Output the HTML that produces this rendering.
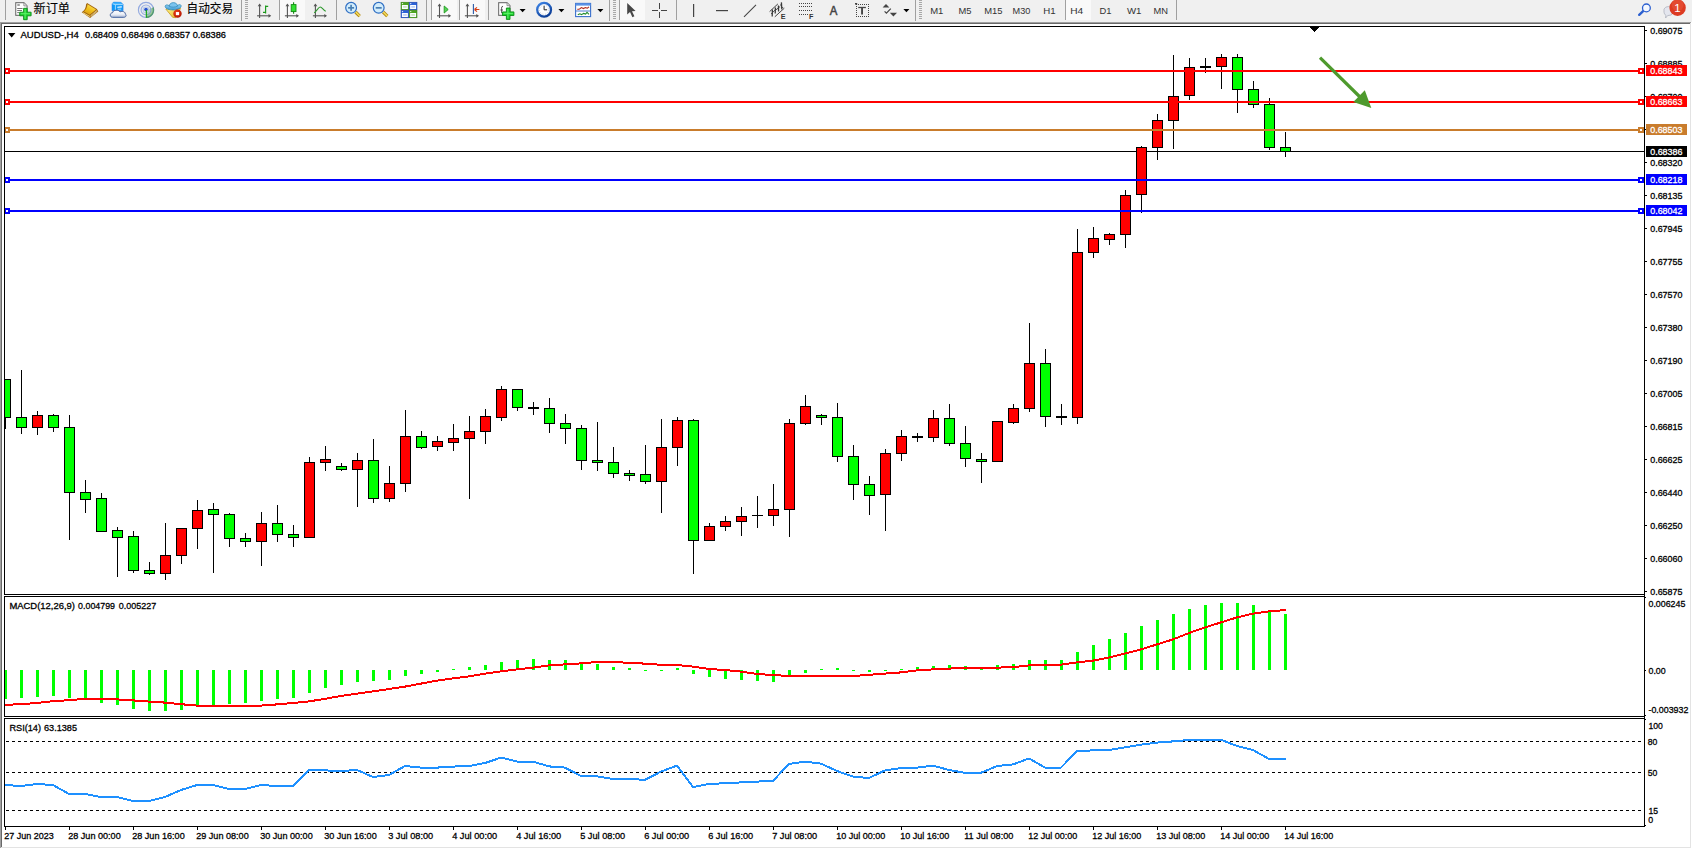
<!DOCTYPE html>
<html lang="zh"><head><meta charset="utf-8"><title>AUDUSD H4</title>
<style>
html,body{margin:0;padding:0}
body{width:1692px;height:849px;overflow:hidden;position:relative;background:#f0f0f0;font-family:"Liberation Sans","Noto Sans CJK SC",sans-serif}
svg text{white-space:pre}
</style></head><body>
<svg width="1692" height="849" viewBox="0 0 1692 849" style="position:absolute;left:0;top:0" font-family='"Liberation Sans", sans-serif' font-size="9.8" stroke-width="0.3">
<g shape-rendering="crispEdges">
<rect x="0" y="22" width="1692" height="827" fill="#fff"/>
<rect x="0" y="22" width="1691" height="1" fill="#a0a0a0"/>
<rect x="0" y="22" width="1" height="826" fill="#a0a0a0"/>
<rect x="1" y="23" width="1689" height="1" fill="#696969"/>
<rect x="1" y="23" width="1" height="824" fill="#696969"/>
<rect x="1690" y="23" width="1" height="825" fill="#e3e3e3"/>
<rect x="1" y="847" width="1690" height="1" fill="#e3e3e3"/>
<clipPath id="cp"><rect x="5" y="27" width="1639" height="800"/></clipPath><g clip-path="url(#cp)">
<rect x="4" y="151" width="1641" height="1" fill="#000"/>
<rect x="5" y="379" width="1" height="50" fill="#000"/>
<rect x="0" y="379" width="11" height="39" fill="#000"/>
<rect x="1" y="380" width="9" height="37" fill="#00ff00"/>
<rect x="21" y="370" width="1" height="64" fill="#000"/>
<rect x="16" y="417" width="11" height="11" fill="#000"/>
<rect x="17" y="418" width="9" height="9" fill="#00ff00"/>
<rect x="37" y="411" width="1" height="24" fill="#000"/>
<rect x="32" y="415" width="11" height="13" fill="#000"/>
<rect x="33" y="416" width="9" height="11" fill="#ff0000"/>
<rect x="53" y="414" width="1" height="18" fill="#000"/>
<rect x="48" y="415" width="11" height="13" fill="#000"/>
<rect x="49" y="416" width="9" height="11" fill="#00ff00"/>
<rect x="69" y="415" width="1" height="125" fill="#000"/>
<rect x="64" y="427" width="11" height="66" fill="#000"/>
<rect x="65" y="428" width="9" height="64" fill="#00ff00"/>
<rect x="85" y="480" width="1" height="33" fill="#000"/>
<rect x="80" y="492" width="11" height="8" fill="#000"/>
<rect x="81" y="493" width="9" height="6" fill="#00ff00"/>
<rect x="101" y="493" width="1" height="39" fill="#000"/>
<rect x="96" y="498" width="11" height="34" fill="#000"/>
<rect x="97" y="499" width="9" height="32" fill="#00ff00"/>
<rect x="117" y="527" width="1" height="50" fill="#000"/>
<rect x="112" y="530" width="11" height="8" fill="#000"/>
<rect x="113" y="531" width="9" height="6" fill="#00ff00"/>
<rect x="133" y="531" width="1" height="42" fill="#000"/>
<rect x="128" y="536" width="11" height="35" fill="#000"/>
<rect x="129" y="537" width="9" height="33" fill="#00ff00"/>
<rect x="149" y="562" width="1" height="13" fill="#000"/>
<rect x="144" y="570" width="11" height="4" fill="#000"/>
<rect x="145" y="571" width="9" height="2" fill="#00ff00"/>
<rect x="165" y="523" width="1" height="57" fill="#000"/>
<rect x="160" y="555" width="11" height="19" fill="#000"/>
<rect x="161" y="556" width="9" height="17" fill="#ff0000"/>
<rect x="181" y="528" width="1" height="36" fill="#000"/>
<rect x="176" y="528" width="11" height="28" fill="#000"/>
<rect x="177" y="529" width="9" height="26" fill="#ff0000"/>
<rect x="197" y="500" width="1" height="49" fill="#000"/>
<rect x="192" y="510" width="11" height="19" fill="#000"/>
<rect x="193" y="511" width="9" height="17" fill="#ff0000"/>
<rect x="213" y="503" width="1" height="70" fill="#000"/>
<rect x="208" y="509" width="11" height="6" fill="#000"/>
<rect x="209" y="510" width="9" height="4" fill="#00ff00"/>
<rect x="229" y="513" width="1" height="34" fill="#000"/>
<rect x="224" y="514" width="11" height="25" fill="#000"/>
<rect x="225" y="515" width="9" height="23" fill="#00ff00"/>
<rect x="245" y="533" width="1" height="14" fill="#000"/>
<rect x="240" y="538" width="11" height="4" fill="#000"/>
<rect x="241" y="539" width="9" height="2" fill="#00ff00"/>
<rect x="261" y="512" width="1" height="54" fill="#000"/>
<rect x="256" y="523" width="11" height="19" fill="#000"/>
<rect x="257" y="524" width="9" height="17" fill="#ff0000"/>
<rect x="277" y="505" width="1" height="37" fill="#000"/>
<rect x="272" y="523" width="11" height="12" fill="#000"/>
<rect x="273" y="524" width="9" height="10" fill="#00ff00"/>
<rect x="293" y="525" width="1" height="22" fill="#000"/>
<rect x="288" y="534" width="11" height="4" fill="#000"/>
<rect x="289" y="535" width="9" height="2" fill="#00ff00"/>
<rect x="309" y="457" width="1" height="81" fill="#000"/>
<rect x="304" y="462" width="11" height="76" fill="#000"/>
<rect x="305" y="463" width="9" height="74" fill="#ff0000"/>
<rect x="325" y="446" width="1" height="25" fill="#000"/>
<rect x="320" y="459" width="11" height="4" fill="#000"/>
<rect x="321" y="460" width="9" height="2" fill="#ff0000"/>
<rect x="341" y="463" width="1" height="8" fill="#000"/>
<rect x="336" y="466" width="11" height="4" fill="#000"/>
<rect x="337" y="467" width="9" height="2" fill="#00ff00"/>
<rect x="357" y="453" width="1" height="54" fill="#000"/>
<rect x="352" y="460" width="11" height="10" fill="#000"/>
<rect x="353" y="461" width="9" height="8" fill="#ff0000"/>
<rect x="373" y="439" width="1" height="64" fill="#000"/>
<rect x="368" y="460" width="11" height="39" fill="#000"/>
<rect x="369" y="461" width="9" height="37" fill="#00ff00"/>
<rect x="389" y="466" width="1" height="36" fill="#000"/>
<rect x="384" y="483" width="11" height="16" fill="#000"/>
<rect x="385" y="484" width="9" height="14" fill="#ff0000"/>
<rect x="405" y="410" width="1" height="82" fill="#000"/>
<rect x="400" y="436" width="11" height="48" fill="#000"/>
<rect x="401" y="437" width="9" height="46" fill="#ff0000"/>
<rect x="421" y="431" width="1" height="18" fill="#000"/>
<rect x="416" y="436" width="11" height="12" fill="#000"/>
<rect x="417" y="437" width="9" height="10" fill="#00ff00"/>
<rect x="437" y="436" width="1" height="15" fill="#000"/>
<rect x="432" y="441" width="11" height="6" fill="#000"/>
<rect x="433" y="442" width="9" height="4" fill="#ff0000"/>
<rect x="453" y="424" width="1" height="27" fill="#000"/>
<rect x="448" y="438" width="11" height="5" fill="#000"/>
<rect x="449" y="439" width="9" height="3" fill="#ff0000"/>
<rect x="469" y="416" width="1" height="83" fill="#000"/>
<rect x="464" y="431" width="11" height="8" fill="#000"/>
<rect x="465" y="432" width="9" height="6" fill="#ff0000"/>
<rect x="485" y="409" width="1" height="35" fill="#000"/>
<rect x="480" y="416" width="11" height="16" fill="#000"/>
<rect x="481" y="417" width="9" height="14" fill="#ff0000"/>
<rect x="501" y="386" width="1" height="35" fill="#000"/>
<rect x="496" y="389" width="11" height="29" fill="#000"/>
<rect x="497" y="390" width="9" height="27" fill="#ff0000"/>
<rect x="517" y="389" width="1" height="22" fill="#000"/>
<rect x="512" y="389" width="11" height="19" fill="#000"/>
<rect x="513" y="390" width="9" height="17" fill="#00ff00"/>
<rect x="533" y="402" width="1" height="13" fill="#000"/>
<rect x="528" y="407" width="11" height="2" fill="#000"/>
<rect x="549" y="398" width="1" height="35" fill="#000"/>
<rect x="544" y="408" width="11" height="16" fill="#000"/>
<rect x="545" y="409" width="9" height="14" fill="#00ff00"/>
<rect x="565" y="414" width="1" height="30" fill="#000"/>
<rect x="560" y="423" width="11" height="6" fill="#000"/>
<rect x="561" y="424" width="9" height="4" fill="#00ff00"/>
<rect x="581" y="425" width="1" height="45" fill="#000"/>
<rect x="576" y="428" width="11" height="33" fill="#000"/>
<rect x="577" y="429" width="9" height="31" fill="#00ff00"/>
<rect x="597" y="422" width="1" height="49" fill="#000"/>
<rect x="592" y="460" width="11" height="3" fill="#000"/>
<rect x="593" y="461" width="9" height="1" fill="#00ff00"/>
<rect x="613" y="447" width="1" height="31" fill="#000"/>
<rect x="608" y="462" width="11" height="12" fill="#000"/>
<rect x="609" y="463" width="9" height="10" fill="#00ff00"/>
<rect x="629" y="470" width="1" height="11" fill="#000"/>
<rect x="624" y="473" width="11" height="3" fill="#000"/>
<rect x="625" y="474" width="9" height="1" fill="#00ff00"/>
<rect x="645" y="445" width="1" height="39" fill="#000"/>
<rect x="640" y="474" width="11" height="8" fill="#000"/>
<rect x="641" y="475" width="9" height="6" fill="#00ff00"/>
<rect x="661" y="419" width="1" height="94" fill="#000"/>
<rect x="656" y="447" width="11" height="35" fill="#000"/>
<rect x="657" y="448" width="9" height="33" fill="#ff0000"/>
<rect x="677" y="417" width="1" height="49" fill="#000"/>
<rect x="672" y="420" width="11" height="28" fill="#000"/>
<rect x="673" y="421" width="9" height="26" fill="#ff0000"/>
<rect x="693" y="419" width="1" height="155" fill="#000"/>
<rect x="688" y="420" width="11" height="121" fill="#000"/>
<rect x="689" y="421" width="9" height="119" fill="#00ff00"/>
<rect x="709" y="523" width="1" height="18" fill="#000"/>
<rect x="704" y="526" width="11" height="15" fill="#000"/>
<rect x="705" y="527" width="9" height="13" fill="#ff0000"/>
<rect x="725" y="516" width="1" height="15" fill="#000"/>
<rect x="720" y="521" width="11" height="6" fill="#000"/>
<rect x="721" y="522" width="9" height="4" fill="#ff0000"/>
<rect x="741" y="507" width="1" height="29" fill="#000"/>
<rect x="736" y="516" width="11" height="6" fill="#000"/>
<rect x="737" y="517" width="9" height="4" fill="#ff0000"/>
<rect x="757" y="496" width="1" height="32" fill="#000"/>
<rect x="752" y="515" width="11" height="1" fill="#000"/>
<rect x="773" y="484" width="1" height="42" fill="#000"/>
<rect x="768" y="509" width="11" height="7" fill="#000"/>
<rect x="769" y="510" width="9" height="5" fill="#ff0000"/>
<rect x="789" y="419" width="1" height="118" fill="#000"/>
<rect x="784" y="423" width="11" height="87" fill="#000"/>
<rect x="785" y="424" width="9" height="85" fill="#ff0000"/>
<rect x="805" y="395" width="1" height="30" fill="#000"/>
<rect x="800" y="406" width="11" height="18" fill="#000"/>
<rect x="801" y="407" width="9" height="16" fill="#ff0000"/>
<rect x="821" y="414" width="1" height="11" fill="#000"/>
<rect x="816" y="415" width="11" height="3" fill="#000"/>
<rect x="817" y="416" width="9" height="1" fill="#00ff00"/>
<rect x="837" y="403" width="1" height="59" fill="#000"/>
<rect x="832" y="417" width="11" height="40" fill="#000"/>
<rect x="833" y="418" width="9" height="38" fill="#00ff00"/>
<rect x="853" y="445" width="1" height="55" fill="#000"/>
<rect x="848" y="456" width="11" height="29" fill="#000"/>
<rect x="849" y="457" width="9" height="27" fill="#00ff00"/>
<rect x="869" y="476" width="1" height="39" fill="#000"/>
<rect x="864" y="484" width="11" height="12" fill="#000"/>
<rect x="865" y="485" width="9" height="10" fill="#00ff00"/>
<rect x="885" y="449" width="1" height="82" fill="#000"/>
<rect x="880" y="453" width="11" height="42" fill="#000"/>
<rect x="881" y="454" width="9" height="40" fill="#ff0000"/>
<rect x="901" y="430" width="1" height="31" fill="#000"/>
<rect x="896" y="436" width="11" height="18" fill="#000"/>
<rect x="897" y="437" width="9" height="16" fill="#ff0000"/>
<rect x="917" y="433" width="1" height="9" fill="#000"/>
<rect x="912" y="436" width="11" height="2" fill="#000"/>
<rect x="933" y="410" width="1" height="32" fill="#000"/>
<rect x="928" y="418" width="11" height="20" fill="#000"/>
<rect x="929" y="419" width="9" height="18" fill="#ff0000"/>
<rect x="949" y="404" width="1" height="42" fill="#000"/>
<rect x="944" y="418" width="11" height="26" fill="#000"/>
<rect x="945" y="419" width="9" height="24" fill="#00ff00"/>
<rect x="965" y="426" width="1" height="41" fill="#000"/>
<rect x="960" y="443" width="11" height="16" fill="#000"/>
<rect x="961" y="444" width="9" height="14" fill="#00ff00"/>
<rect x="981" y="453" width="1" height="30" fill="#000"/>
<rect x="976" y="459" width="11" height="3" fill="#000"/>
<rect x="977" y="460" width="9" height="1" fill="#00ff00"/>
<rect x="997" y="421" width="1" height="41" fill="#000"/>
<rect x="992" y="421" width="11" height="41" fill="#000"/>
<rect x="993" y="422" width="9" height="39" fill="#ff0000"/>
<rect x="1013" y="404" width="1" height="20" fill="#000"/>
<rect x="1008" y="408" width="11" height="15" fill="#000"/>
<rect x="1009" y="409" width="9" height="13" fill="#ff0000"/>
<rect x="1029" y="323" width="1" height="89" fill="#000"/>
<rect x="1024" y="363" width="11" height="46" fill="#000"/>
<rect x="1025" y="364" width="9" height="44" fill="#ff0000"/>
<rect x="1045" y="349" width="1" height="78" fill="#000"/>
<rect x="1040" y="363" width="11" height="54" fill="#000"/>
<rect x="1041" y="364" width="9" height="52" fill="#00ff00"/>
<rect x="1061" y="404" width="1" height="21" fill="#000"/>
<rect x="1056" y="416" width="11" height="2" fill="#000"/>
<rect x="1077" y="229" width="1" height="195" fill="#000"/>
<rect x="1072" y="252" width="11" height="166" fill="#000"/>
<rect x="1073" y="253" width="9" height="164" fill="#ff0000"/>
<rect x="1093" y="227" width="1" height="31" fill="#000"/>
<rect x="1088" y="238" width="11" height="15" fill="#000"/>
<rect x="1089" y="239" width="9" height="13" fill="#ff0000"/>
<rect x="1109" y="233" width="1" height="12" fill="#000"/>
<rect x="1104" y="234" width="11" height="6" fill="#000"/>
<rect x="1105" y="235" width="9" height="4" fill="#ff0000"/>
<rect x="1125" y="190" width="1" height="58" fill="#000"/>
<rect x="1120" y="195" width="11" height="40" fill="#000"/>
<rect x="1121" y="196" width="9" height="38" fill="#ff0000"/>
<rect x="1141" y="146" width="1" height="67" fill="#000"/>
<rect x="1136" y="147" width="11" height="48" fill="#000"/>
<rect x="1137" y="148" width="9" height="46" fill="#ff0000"/>
<rect x="1157" y="114" width="1" height="46" fill="#000"/>
<rect x="1152" y="120" width="11" height="28" fill="#000"/>
<rect x="1153" y="121" width="9" height="26" fill="#ff0000"/>
<rect x="1173" y="55" width="1" height="94" fill="#000"/>
<rect x="1168" y="96" width="11" height="25" fill="#000"/>
<rect x="1169" y="97" width="9" height="23" fill="#ff0000"/>
<rect x="1189" y="58" width="1" height="42" fill="#000"/>
<rect x="1184" y="67" width="11" height="29" fill="#000"/>
<rect x="1185" y="68" width="9" height="27" fill="#ff0000"/>
<rect x="1205" y="58" width="1" height="15" fill="#000"/>
<rect x="1200" y="66" width="11" height="2" fill="#000"/>
<rect x="1221" y="54" width="1" height="35" fill="#000"/>
<rect x="1216" y="57" width="11" height="10" fill="#000"/>
<rect x="1217" y="58" width="9" height="8" fill="#ff0000"/>
<rect x="1237" y="54" width="1" height="59" fill="#000"/>
<rect x="1232" y="57" width="11" height="33" fill="#000"/>
<rect x="1233" y="58" width="9" height="31" fill="#00ff00"/>
<rect x="1253" y="81" width="1" height="27" fill="#000"/>
<rect x="1248" y="89" width="11" height="16" fill="#000"/>
<rect x="1249" y="90" width="9" height="14" fill="#00ff00"/>
<rect x="1269" y="98" width="1" height="52" fill="#000"/>
<rect x="1264" y="104" width="11" height="44" fill="#000"/>
<rect x="1265" y="105" width="9" height="42" fill="#00ff00"/>
<rect x="1285" y="132" width="1" height="25" fill="#000"/>
<rect x="1280" y="147" width="11" height="5" fill="#000"/>
<rect x="1281" y="148" width="9" height="3" fill="#00ff00"/>
<rect x="4" y="70" width="1640" height="2" fill="#ff0000"/>
<rect x="4" y="68" width="6" height="6" fill="#ff0000"/>
<rect x="6" y="70" width="2" height="2" fill="#fff"/>
<rect x="1638" y="68" width="6" height="6" fill="#ff0000"/>
<rect x="1640" y="70" width="2" height="2" fill="#fff"/>
<rect x="4" y="101" width="1640" height="2" fill="#ff0000"/>
<rect x="4" y="99" width="6" height="6" fill="#ff0000"/>
<rect x="6" y="101" width="2" height="2" fill="#fff"/>
<rect x="1638" y="99" width="6" height="6" fill="#ff0000"/>
<rect x="1640" y="101" width="2" height="2" fill="#fff"/>
<rect x="4" y="129" width="1640" height="2" fill="#c97c2c"/>
<rect x="4" y="127" width="6" height="6" fill="#c97c2c"/>
<rect x="6" y="129" width="2" height="2" fill="#fff"/>
<rect x="1638" y="127" width="6" height="6" fill="#c97c2c"/>
<rect x="1640" y="129" width="2" height="2" fill="#fff"/>
<rect x="4" y="179" width="1640" height="2" fill="#0000ff"/>
<rect x="4" y="177" width="6" height="6" fill="#0000ff"/>
<rect x="6" y="179" width="2" height="2" fill="#fff"/>
<rect x="1638" y="177" width="6" height="6" fill="#0000ff"/>
<rect x="1640" y="179" width="2" height="2" fill="#fff"/>
<rect x="4" y="210" width="1640" height="2" fill="#0000ff"/>
<rect x="4" y="208" width="6" height="6" fill="#0000ff"/>
<rect x="6" y="210" width="2" height="2" fill="#fff"/>
<rect x="1638" y="208" width="6" height="6" fill="#0000ff"/>
<rect x="1640" y="210" width="2" height="2" fill="#fff"/>
<rect x="4" y="670" width="3" height="29" fill="#00ff00"/>
<rect x="20" y="670" width="3" height="28" fill="#00ff00"/>
<rect x="36" y="670" width="3" height="27" fill="#00ff00"/>
<rect x="52" y="670" width="3" height="26" fill="#00ff00"/>
<rect x="68" y="670" width="3" height="28" fill="#00ff00"/>
<rect x="84" y="670" width="3" height="29" fill="#00ff00"/>
<rect x="100" y="670" width="3" height="33" fill="#00ff00"/>
<rect x="116" y="670" width="3" height="35" fill="#00ff00"/>
<rect x="132" y="670" width="3" height="39" fill="#00ff00"/>
<rect x="148" y="670" width="3" height="41" fill="#00ff00"/>
<rect x="164" y="670" width="3" height="41" fill="#00ff00"/>
<rect x="180" y="670" width="3" height="40" fill="#00ff00"/>
<rect x="196" y="670" width="3" height="36" fill="#00ff00"/>
<rect x="212" y="670" width="3" height="35" fill="#00ff00"/>
<rect x="228" y="670" width="3" height="34" fill="#00ff00"/>
<rect x="244" y="670" width="3" height="33" fill="#00ff00"/>
<rect x="260" y="670" width="3" height="31" fill="#00ff00"/>
<rect x="276" y="670" width="3" height="29" fill="#00ff00"/>
<rect x="292" y="670" width="3" height="28" fill="#00ff00"/>
<rect x="308" y="670" width="3" height="23" fill="#00ff00"/>
<rect x="324" y="670" width="3" height="18" fill="#00ff00"/>
<rect x="340" y="670" width="3" height="15" fill="#00ff00"/>
<rect x="356" y="670" width="3" height="12" fill="#00ff00"/>
<rect x="372" y="670" width="3" height="11" fill="#00ff00"/>
<rect x="388" y="670" width="3" height="10" fill="#00ff00"/>
<rect x="404" y="670" width="3" height="6" fill="#00ff00"/>
<rect x="420" y="670" width="3" height="4" fill="#00ff00"/>
<rect x="436" y="670" width="3" height="2" fill="#00ff00"/>
<rect x="452" y="669" width="3" height="1" fill="#00ff00"/>
<rect x="468" y="667" width="3" height="3" fill="#00ff00"/>
<rect x="484" y="665" width="3" height="5" fill="#00ff00"/>
<rect x="500" y="662" width="3" height="8" fill="#00ff00"/>
<rect x="516" y="660" width="3" height="10" fill="#00ff00"/>
<rect x="532" y="659" width="3" height="11" fill="#00ff00"/>
<rect x="548" y="660" width="3" height="10" fill="#00ff00"/>
<rect x="564" y="660" width="3" height="10" fill="#00ff00"/>
<rect x="580" y="662" width="3" height="8" fill="#00ff00"/>
<rect x="596" y="664" width="3" height="6" fill="#00ff00"/>
<rect x="612" y="667" width="3" height="3" fill="#00ff00"/>
<rect x="628" y="668" width="3" height="2" fill="#00ff00"/>
<rect x="644" y="670" width="3" height="1" fill="#00ff00"/>
<rect x="660" y="670" width="3" height="1" fill="#00ff00"/>
<rect x="676" y="668" width="3" height="2" fill="#00ff00"/>
<rect x="692" y="670" width="3" height="4" fill="#00ff00"/>
<rect x="708" y="670" width="3" height="7" fill="#00ff00"/>
<rect x="724" y="670" width="3" height="9" fill="#00ff00"/>
<rect x="740" y="670" width="3" height="10" fill="#00ff00"/>
<rect x="756" y="670" width="3" height="11" fill="#00ff00"/>
<rect x="772" y="670" width="3" height="12" fill="#00ff00"/>
<rect x="788" y="670" width="3" height="5" fill="#00ff00"/>
<rect x="804" y="670" width="3" height="3" fill="#00ff00"/>
<rect x="820" y="669" width="3" height="1" fill="#00ff00"/>
<rect x="836" y="668" width="3" height="2" fill="#00ff00"/>
<rect x="852" y="670" width="3" height="1" fill="#00ff00"/>
<rect x="868" y="670" width="3" height="2" fill="#00ff00"/>
<rect x="884" y="670" width="3" height="1" fill="#00ff00"/>
<rect x="900" y="669" width="3" height="1" fill="#00ff00"/>
<rect x="916" y="667" width="3" height="3" fill="#00ff00"/>
<rect x="932" y="666" width="3" height="4" fill="#00ff00"/>
<rect x="948" y="665" width="3" height="5" fill="#00ff00"/>
<rect x="964" y="666" width="3" height="4" fill="#00ff00"/>
<rect x="980" y="668" width="3" height="2" fill="#00ff00"/>
<rect x="996" y="665" width="3" height="5" fill="#00ff00"/>
<rect x="1012" y="664" width="3" height="6" fill="#00ff00"/>
<rect x="1028" y="660" width="3" height="10" fill="#00ff00"/>
<rect x="1044" y="660" width="3" height="10" fill="#00ff00"/>
<rect x="1060" y="660" width="3" height="10" fill="#00ff00"/>
<rect x="1076" y="652" width="3" height="18" fill="#00ff00"/>
<rect x="1092" y="645" width="3" height="25" fill="#00ff00"/>
<rect x="1108" y="639" width="3" height="31" fill="#00ff00"/>
<rect x="1124" y="633" width="3" height="37" fill="#00ff00"/>
<rect x="1140" y="626" width="3" height="44" fill="#00ff00"/>
<rect x="1156" y="620" width="3" height="50" fill="#00ff00"/>
<rect x="1172" y="614" width="3" height="56" fill="#00ff00"/>
<rect x="1188" y="609" width="3" height="61" fill="#00ff00"/>
<rect x="1204" y="605" width="3" height="65" fill="#00ff00"/>
<rect x="1220" y="603" width="3" height="67" fill="#00ff00"/>
<rect x="1236" y="603" width="3" height="67" fill="#00ff00"/>
<rect x="1252" y="605" width="3" height="65" fill="#00ff00"/>
<rect x="1268" y="610" width="3" height="60" fill="#00ff00"/>
<rect x="1284" y="614" width="3" height="56" fill="#00ff00"/>
</g></g>
<polyline points="5,704.8 21,704.2 37,703.0 53,701.2 69,700.2 85,698.8 101,698.8 117,699.4 133,700.4 149,701.6 165,702.6 181,704.2 197,705.6 213,706.0 229,706.0 245,706.0 261,705.6 277,704.4 293,703.0 309,701.4 325,698.8 341,696.0 357,693.6 373,691.4 389,689.0 405,686.6 421,683.6 437,680.6 453,678.4 469,676.4 485,673.6 501,671.4 517,669.4 533,667.6 549,665.4 565,664.4 581,663.4 597,662.0 613,661.6 629,663.0 645,663.6 661,664.8 677,665.0 693,666.6 709,669.0 725,670.0 741,671.6 757,674.0 773,675.0 789,676.0 805,676.0 821,676.0 837,676.0 853,676.0 869,674.8 885,673.6 901,672.4 917,670.4 933,669.4 949,668.6 965,667.8 981,667.6 997,667.6 1013,667.2 1029,665.4 1045,665.0 1061,664.6 1077,662.4 1093,660.6 1109,657.6 1125,653.6 1141,649.4 1157,644.4 1173,639.4 1189,633.0 1205,627.4 1221,622.4 1237,617.4 1253,613.6 1269,611.4 1286,610.0" fill="none" stroke="#ff0000" stroke-width="2" stroke-linejoin="round" shape-rendering="crispEdges"/>
<g shape-rendering="crispEdges">
<line x1="6" y1="741.5" x2="1644" y2="741.5" stroke="#000" stroke-width="1" stroke-dasharray="3,3"/>
<line x1="6" y1="772.5" x2="1644" y2="772.5" stroke="#000" stroke-width="1" stroke-dasharray="3,3"/>
<line x1="6" y1="810.5" x2="1644" y2="810.5" stroke="#000" stroke-width="1" stroke-dasharray="3,3"/>
</g>
<polyline points="5,785.0 21,786.0 37,784.0 53,785.0 69,794.0 85,794.0 101,797.0 117,797.0 133,801.0 149,801.0 165,797.0 181,790.0 197,785.0 213,785.0 229,789.0 245,789.0 261,785.0 277,786.0 293,786.0 309,770.0 325,770.4 341,771.0 357,770.0 373,777.0 389,775.0 405,766.0 421,767.6 437,767.6 453,766.6 469,766.0 485,763.0 501,757.6 517,761.6 533,761.6 549,766.4 565,767.6 581,776.0 597,776.4 613,779.0 629,779.0 645,779.8 661,771.6 677,765.6 693,787.0 709,784.0 725,783.2 741,782.4 757,781.6 773,780.8 789,764.0 805,761.6 821,763.6 837,771.0 853,776.6 869,778.0 885,770.4 901,768.0 917,767.6 933,765.6 949,770.0 965,772.8 981,772.8 997,766.0 1013,764.4 1029,758.4 1045,767.6 1061,767.6 1077,751.0 1093,750.4 1109,750.0 1125,747.4 1141,744.6 1157,742.6 1173,741.4 1189,740.0 1205,739.8 1221,739.8 1237,746.0 1253,750.0 1269,759.0 1286,759.0" fill="none" stroke="#1e90ff" stroke-width="2" stroke-linejoin="round" shape-rendering="crispEdges"/>
<g shape-rendering="crispEdges">
<rect x="4" y="26" width="1" height="569" fill="#000"/>
<rect x="4" y="596" width="1" height="121" fill="#000"/>
<rect x="4" y="718" width="1" height="109" fill="#000"/>
<rect x="1644" y="26" width="1" height="801" fill="#000"/>
<rect x="4" y="26" width="1641" height="1" fill="#000"/>
<rect x="4" y="594" width="1641" height="1" fill="#000"/>
<rect x="4" y="596" width="1641" height="1" fill="#000"/>
<rect x="4" y="716" width="1641" height="1" fill="#000"/>
<rect x="4" y="718" width="1641" height="1" fill="#000"/>
<rect x="4" y="826" width="1641" height="1" fill="#000"/>
<rect x="1645" y="30" width="2" height="1" fill="#000"/>
<rect x="1645" y="63" width="2" height="1" fill="#000"/>
<rect x="1645" y="96" width="2" height="1" fill="#000"/>
<rect x="1645" y="129" width="2" height="1" fill="#000"/>
<rect x="1645" y="162" width="2" height="1" fill="#000"/>
<rect x="1645" y="195" width="2" height="1" fill="#000"/>
<rect x="1645" y="228" width="2" height="1" fill="#000"/>
<rect x="1645" y="261" width="2" height="1" fill="#000"/>
<rect x="1645" y="294" width="2" height="1" fill="#000"/>
<rect x="1645" y="327" width="2" height="1" fill="#000"/>
<rect x="1645" y="360" width="2" height="1" fill="#000"/>
<rect x="1645" y="393" width="2" height="1" fill="#000"/>
<rect x="1645" y="426" width="2" height="1" fill="#000"/>
<rect x="1645" y="459" width="2" height="1" fill="#000"/>
<rect x="1645" y="492" width="2" height="1" fill="#000"/>
<rect x="1645" y="525" width="2" height="1" fill="#000"/>
<rect x="1645" y="558" width="2" height="1" fill="#000"/>
<rect x="1645" y="591" width="2" height="1" fill="#000"/>
<rect x="1645" y="597" width="1" height="1" fill="#000"/>
<rect x="1645" y="670" width="1" height="1" fill="#000"/>
<rect x="1645" y="715" width="1" height="1" fill="#000"/>
<rect x="1645" y="719" width="1" height="1" fill="#000"/>
<rect x="1645" y="825" width="1" height="1" fill="#000"/>
<rect x="5" y="827" width="1" height="3" fill="#000"/>
<rect x="69" y="827" width="1" height="3" fill="#000"/>
<rect x="133" y="827" width="1" height="3" fill="#000"/>
<rect x="197" y="827" width="1" height="3" fill="#000"/>
<rect x="261" y="827" width="1" height="3" fill="#000"/>
<rect x="325" y="827" width="1" height="3" fill="#000"/>
<rect x="389" y="827" width="1" height="3" fill="#000"/>
<rect x="453" y="827" width="1" height="3" fill="#000"/>
<rect x="517" y="827" width="1" height="3" fill="#000"/>
<rect x="581" y="827" width="1" height="3" fill="#000"/>
<rect x="645" y="827" width="1" height="3" fill="#000"/>
<rect x="709" y="827" width="1" height="3" fill="#000"/>
<rect x="773" y="827" width="1" height="3" fill="#000"/>
<rect x="837" y="827" width="1" height="3" fill="#000"/>
<rect x="901" y="827" width="1" height="3" fill="#000"/>
<rect x="965" y="827" width="1" height="3" fill="#000"/>
<rect x="1029" y="827" width="1" height="3" fill="#000"/>
<rect x="1093" y="827" width="1" height="3" fill="#000"/>
<rect x="1157" y="827" width="1" height="3" fill="#000"/>
<rect x="1221" y="827" width="1" height="3" fill="#000"/>
<rect x="1285" y="827" width="1" height="3" fill="#000"/>
<polygon points="1309.5,27 1319.5,27 1314.5,32" fill="#000"/>
</g>
<text x="1650.2" y="34" textLength="32.3" lengthAdjust="spacingAndGlyphs" stroke="#000">0.69075</text>
<text x="1650.2" y="67" textLength="32.3" lengthAdjust="spacingAndGlyphs" stroke="#000">0.68885</text>
<text x="1650.2" y="100" textLength="32.3" lengthAdjust="spacingAndGlyphs" stroke="#000">0.68700</text>
<text x="1650.2" y="133" textLength="32.3" lengthAdjust="spacingAndGlyphs" stroke="#000">0.68510</text>
<text x="1650.2" y="166" textLength="32.3" lengthAdjust="spacingAndGlyphs" stroke="#000">0.68320</text>
<text x="1650.2" y="199" textLength="32.3" lengthAdjust="spacingAndGlyphs" stroke="#000">0.68135</text>
<text x="1650.2" y="232" textLength="32.3" lengthAdjust="spacingAndGlyphs" stroke="#000">0.67945</text>
<text x="1650.2" y="265" textLength="32.3" lengthAdjust="spacingAndGlyphs" stroke="#000">0.67755</text>
<text x="1650.2" y="298" textLength="32.3" lengthAdjust="spacingAndGlyphs" stroke="#000">0.67570</text>
<text x="1650.2" y="331" textLength="32.3" lengthAdjust="spacingAndGlyphs" stroke="#000">0.67380</text>
<text x="1650.2" y="364" textLength="32.3" lengthAdjust="spacingAndGlyphs" stroke="#000">0.67190</text>
<text x="1650.2" y="397" textLength="32.3" lengthAdjust="spacingAndGlyphs" stroke="#000">0.67005</text>
<text x="1650.2" y="430" textLength="32.3" lengthAdjust="spacingAndGlyphs" stroke="#000">0.66815</text>
<text x="1650.2" y="463" textLength="32.3" lengthAdjust="spacingAndGlyphs" stroke="#000">0.66625</text>
<text x="1650.2" y="496" textLength="32.3" lengthAdjust="spacingAndGlyphs" stroke="#000">0.66440</text>
<text x="1650.2" y="529" textLength="32.3" lengthAdjust="spacingAndGlyphs" stroke="#000">0.66250</text>
<text x="1650.2" y="562" textLength="32.3" lengthAdjust="spacingAndGlyphs" stroke="#000">0.66060</text>
<text x="1650.2" y="595" textLength="32.3" lengthAdjust="spacingAndGlyphs" stroke="#000">0.65875</text>
<rect x="1646" y="65" width="41" height="11" fill="#ff0000" shape-rendering="crispEdges"/>
<text x="1650.2" y="74" textLength="32.3" lengthAdjust="spacingAndGlyphs" fill="#fff" stroke="#fff">0.68843</text>
<rect x="1646" y="96" width="41" height="11" fill="#ff0000" shape-rendering="crispEdges"/>
<text x="1650.2" y="105" textLength="32.3" lengthAdjust="spacingAndGlyphs" fill="#fff" stroke="#fff">0.68663</text>
<rect x="1646" y="124" width="41" height="11" fill="#c97c2c" shape-rendering="crispEdges"/>
<text x="1650.2" y="133" textLength="32.3" lengthAdjust="spacingAndGlyphs" fill="#fff" stroke="#fff">0.68503</text>
<rect x="1646" y="146" width="41" height="11" fill="#000" shape-rendering="crispEdges"/>
<text x="1650.2" y="155" textLength="32.3" lengthAdjust="spacingAndGlyphs" fill="#fff" stroke="#fff">0.68386</text>
<rect x="1646" y="174" width="41" height="11" fill="#0000ff" shape-rendering="crispEdges"/>
<text x="1650.2" y="183" textLength="32.3" lengthAdjust="spacingAndGlyphs" fill="#fff" stroke="#fff">0.68218</text>
<rect x="1646" y="205" width="41" height="11" fill="#0000ff" shape-rendering="crispEdges"/>
<text x="1650.2" y="214" textLength="32.3" lengthAdjust="spacingAndGlyphs" fill="#fff" stroke="#fff">0.68042</text>
<text x="1648.5" y="607" textLength="36.8" lengthAdjust="spacingAndGlyphs" stroke="#000">0.006245</text>
<text x="1648.5" y="674" textLength="17.2" lengthAdjust="spacingAndGlyphs" stroke="#000">0.00</text>
<text x="1648.5" y="713" textLength="39.8" lengthAdjust="spacingAndGlyphs" stroke="#000">-0.003932</text>
<text x="1648.5" y="729" textLength="14.4" lengthAdjust="spacingAndGlyphs" stroke="#000">100</text>
<text x="1647.8" y="745" textLength="9.6" lengthAdjust="spacingAndGlyphs" stroke="#000">80</text>
<text x="1647.8" y="776" textLength="9.6" lengthAdjust="spacingAndGlyphs" stroke="#000">50</text>
<text x="1648.5" y="814" textLength="9.6" lengthAdjust="spacingAndGlyphs" stroke="#000">15</text>
<text x="1648.2" y="823" textLength="4.9" lengthAdjust="spacingAndGlyphs" stroke="#000">0</text>
<polygon points="8,33 15.4,33 11.7,37.4" fill="#000"/>
<text x="20.5" y="38" textLength="58.3" lengthAdjust="spacingAndGlyphs" stroke="#000">AUDUSD-,H4</text>
<text x="85" y="38" textLength="141" lengthAdjust="spacingAndGlyphs" stroke="#000">0.68409 0.68496 0.68357 0.68386</text>
<text x="9.4" y="609" textLength="65.6" lengthAdjust="spacingAndGlyphs" stroke="#000">MACD(12,26,9)</text>
<text x="78.1" y="609" textLength="36.9" lengthAdjust="spacingAndGlyphs" stroke="#000">0.004799</text>
<text x="118.7" y="609" textLength="37.5" lengthAdjust="spacingAndGlyphs" stroke="#000">0.005227</text>
<text x="9.4" y="731" textLength="31.6" lengthAdjust="spacingAndGlyphs" stroke="#000">RSI(14)</text>
<text x="44" y="731" textLength="33" lengthAdjust="spacingAndGlyphs" stroke="#000">63.1385</text>
<text x="4.2" y="839" textLength="49.5" lengthAdjust="spacingAndGlyphs" stroke="#000">27 Jun 2023</text>
<text x="68.2" y="839" textLength="52.5" lengthAdjust="spacingAndGlyphs" stroke="#000">28 Jun 00:00</text>
<text x="132.2" y="839" textLength="52.5" lengthAdjust="spacingAndGlyphs" stroke="#000">28 Jun 16:00</text>
<text x="196.2" y="839" textLength="52.5" lengthAdjust="spacingAndGlyphs" stroke="#000">29 Jun 08:00</text>
<text x="260.2" y="839" textLength="52.5" lengthAdjust="spacingAndGlyphs" stroke="#000">30 Jun 00:00</text>
<text x="324.2" y="839" textLength="52.5" lengthAdjust="spacingAndGlyphs" stroke="#000">30 Jun 16:00</text>
<text x="388.2" y="839" textLength="45" lengthAdjust="spacingAndGlyphs" stroke="#000">3 Jul 08:00</text>
<text x="452.2" y="839" textLength="45" lengthAdjust="spacingAndGlyphs" stroke="#000">4 Jul 00:00</text>
<text x="516.2" y="839" textLength="45" lengthAdjust="spacingAndGlyphs" stroke="#000">4 Jul 16:00</text>
<text x="580.2" y="839" textLength="45" lengthAdjust="spacingAndGlyphs" stroke="#000">5 Jul 08:00</text>
<text x="644.2" y="839" textLength="45" lengthAdjust="spacingAndGlyphs" stroke="#000">6 Jul 00:00</text>
<text x="708.2" y="839" textLength="45" lengthAdjust="spacingAndGlyphs" stroke="#000">6 Jul 16:00</text>
<text x="772.2" y="839" textLength="45" lengthAdjust="spacingAndGlyphs" stroke="#000">7 Jul 08:00</text>
<text x="836.2" y="839" textLength="49.2" lengthAdjust="spacingAndGlyphs" stroke="#000">10 Jul 00:00</text>
<text x="900.2" y="839" textLength="49.2" lengthAdjust="spacingAndGlyphs" stroke="#000">10 Jul 16:00</text>
<text x="964.2" y="839" textLength="49.2" lengthAdjust="spacingAndGlyphs" stroke="#000">11 Jul 08:00</text>
<text x="1028.2" y="839" textLength="49.2" lengthAdjust="spacingAndGlyphs" stroke="#000">12 Jul 00:00</text>
<text x="1092.2" y="839" textLength="49.2" lengthAdjust="spacingAndGlyphs" stroke="#000">12 Jul 16:00</text>
<text x="1156.2" y="839" textLength="49.2" lengthAdjust="spacingAndGlyphs" stroke="#000">13 Jul 08:00</text>
<text x="1220.2" y="839" textLength="49.2" lengthAdjust="spacingAndGlyphs" stroke="#000">14 Jul 00:00</text>
<text x="1284.2" y="839" textLength="49.2" lengthAdjust="spacingAndGlyphs" stroke="#000">14 Jul 16:00</text>
<line x1="1320" y1="57.7" x2="1360" y2="97" stroke="#4e9a2d" stroke-width="3.2"/>
<polygon points="1371.3,108.1 1364.8,90.3 1353.3,102.1" fill="#4e9a2d"/>
<g id="toolbar">
<rect x="0" y="0" width="1692" height="22" fill="#f0f0f0"/>
<rect x="5" y="0" width="1" height="20" fill="#a0a0a0" shape-rendering="crispEdges"/>
<path d="M15.7,2.7 h8.2 l3.2,3.2 v9.4 h-11.4 z" fill="#fff" stroke="#7c7c7c" stroke-width="1.2" stroke-linejoin="round"/>
<path d="M23.9,2.9 v3 h3" fill="#f4f4f4" stroke="#7c7c7c" stroke-width="0.8"/>
<g stroke="#777" stroke-width="1"><line x1="17.3" y1="5" x2="19.8" y2="5" stroke-width="1.4"/><line x1="17.2" y1="8.5" x2="22.6" y2="8.5"/><line x1="17.2" y1="10.5" x2="22" y2="10.5"/><line x1="17.2" y1="12.6" x2="19.4" y2="12.6"/></g>
<path d="M23.6,8.3 h3.6 v3.9 h3.9 v3.6 h-3.9 v3.9 h-3.6 v-3.9 h-3.9 v-3.6 h3.9 z" fill="#1fd12f" stroke="#0b8f18" stroke-width="0.9"/><path d="M25.1,9.3 v9.4 M20.700000000000003,13.700000000000001 h9.4" stroke="#5cf068" stroke-width="1" fill="none"/>
<text x="33.5" y="13.2" font-size="12.2" font-family='"Liberation Sans","Noto Sans CJK SC",sans-serif' fill="#000" stroke="#000" stroke-width="0.12" textLength="36.5" lengthAdjust="spacingAndGlyphs">新订单</text>
<defs><linearGradient id="gb" x1="0.8" y1="0" x2="0.2" y2="1"><stop offset="0" stop-color="#ffe766"/><stop offset="0.5" stop-color="#f2c21c"/><stop offset="1" stop-color="#d99a10"/></linearGradient></defs>
<path d="M87.1,3.1 L96.9,9 L98.3,11.6 L90.1,18 L81.7,12.3 C84.6,10.4 85.9,7.8 86.1,4.2 Z" fill="#a2660e"/>
<path d="M87.5,4.3 L96,9.5 L89.7,14.7 L83.9,11.5 C86,9.7 87.1,7.5 87.5,4.3 Z" fill="url(#gb)"/>
<path d="M83.1,12.3 L89.8,16.1 L89.8,17.1 L82.8,12.9 Z" fill="#f8e08a"/>
<path d="M90.6,15.2 L96.6,10.3 L97.4,11.5 L90.7,16.9 Z" fill="#eadca2"/>
<path d="M90.6,16.1 L97,11" stroke="#a2660e" stroke-width="0.5" fill="none"/>
<defs><linearGradient id="cl" x1="0" y1="0" x2="0" y2="1"><stop offset="0" stop-color="#ffffff"/><stop offset="0.55" stop-color="#eef1f8"/><stop offset="1" stop-color="#aebbd6"/></linearGradient></defs>
<path d="M112,3.6 L113.8,2.1 L121,2.3 L123.1,4.5 L123.1,10.8 L112,10.8 Z" fill="#0f9af8" stroke="#2a7ae0" stroke-width="0.5"/>
<path d="M112.3,3.7 L113.9,2.5 L120.8,2.6 L122.6,4.5 L115.4,4.5 Z" fill="#3fb4ff"/>
<path d="M112.3,3.8 L115.4,4.6 L115.4,10.4 M115.4,4.6 L122.8,4.6" stroke="#d8f0ff" stroke-width="0.7" fill="none"/>
<path d="M117.3,7.3 L121.8,6.9" stroke="#ffffff" stroke-width="1.1" fill="none"/><path d="M117.6,9.2 h3.6" stroke="#bfe4ff" stroke-width="0.8" fill="none"/>
<path d="M112.6,17.3 C109.6,17.3 109.4,13 112.6,12.7 C113,9.8 118.6,9.2 120,11.9 C122.4,10.6 125.6,12 125.2,14 C126.8,14.8 126.2,17.3 123.8,17.3 Z" fill="url(#cl)" stroke="#40609e" stroke-width="1"/>
<defs><radialGradient id="sg" cx="0" cy="0" r="1" gradientUnits="userSpaceOnUse" gradientTransform="translate(146 9.9) scale(8)"><stop offset="0" stop-color="#dff0d8" stop-opacity="0.2"/><stop offset="1" stop-color="#3c9a3c" stop-opacity="0.75"/></radialGradient></defs>
<path d="M146,9.9 L146,17.9 A8,8 0 0 0 153.6,7.6 Z" fill="url(#sg)"/>
<g fill="none" stroke-width="1.15"><circle cx="146" cy="9.9" r="7.6" stroke="#5b80d6" stroke-opacity="0.62"/><circle cx="146" cy="9.9" r="4.9" stroke="#5b80d6" stroke-opacity="0.58"/><circle cx="146" cy="9.9" r="2.9" stroke="#7f9fe0" stroke-opacity="0.45"/></g>
<path d="M153.2,7.4 A7.6,7.6 0 0 1 146,17.5" fill="none" stroke="#4a9a5a" stroke-width="1.15" stroke-opacity="0.7"/>
<circle cx="146" cy="9.6" r="1.8" fill="#2452d0"/>
<line x1="146.4" y1="10" x2="146.4" y2="17.6" stroke="#1fa81f" stroke-width="1.3"/>
<defs><linearGradient id="fy" x1="0" y1="0" x2="1" y2="1"><stop offset="0" stop-color="#fff58c"/><stop offset="1" stop-color="#e4b020"/></linearGradient><radialGradient id="rs" cx="0.4" cy="0.35" r="0.7"><stop offset="0" stop-color="#f0431c"/><stop offset="1" stop-color="#b01400"/></radialGradient><linearGradient id="hb" x1="0" y1="0" x2="0" y2="1"><stop offset="0" stop-color="#8fd0f2"/><stop offset="1" stop-color="#3f9bd6"/></linearGradient></defs>
<path d="M165.8,9 L172.6,17.3 L175.6,17.7 L180.6,8.4 Z" fill="url(#fy)" stroke="#c89a1c" stroke-width="0.8"/>
<path d="M165.2,6.6 C165,4.6 167.4,4.4 169.4,5.8 L177.4,5.6 C179,4.2 181.6,4.2 181,6.6 C180.4,8.8 176.6,9.9 173,9.9 C169.4,9.9 165.6,9 165.2,6.6 Z" fill="url(#hb)" stroke="#2d86b6" stroke-width="0.8"/>
<path d="M169.3,6.4 C169.1,1.4 177.5,1.4 177.5,6.2 C175,7.4 171.6,7.4 169.3,6.4 Z" fill="#7cc4ee" stroke="#2d86b6" stroke-width="0.7"/>
<circle cx="177.5" cy="13.65" r="4.2" fill="url(#rs)"/>
<rect x="175.9" y="12.05" width="3.2" height="3.1" fill="#fff"/>
<text x="186.6" y="13.4" font-size="12" font-family='"Liberation Sans","Noto Sans CJK SC",sans-serif' fill="#000" stroke="#000" stroke-width="0.12" textLength="46.5" lengthAdjust="spacingAndGlyphs">自动交易</text>
<rect x="241" y="0" width="1" height="21" fill="#a0a0a0" shape-rendering="crispEdges"/>
<rect x="245" y="0" width="3" height="1" fill="#a8a8a8" shape-rendering="crispEdges"/>
<rect x="245" y="2" width="3" height="1" fill="#a8a8a8" shape-rendering="crispEdges"/>
<rect x="245" y="4" width="3" height="1" fill="#a8a8a8" shape-rendering="crispEdges"/>
<rect x="245" y="6" width="3" height="1" fill="#a8a8a8" shape-rendering="crispEdges"/>
<rect x="245" y="8" width="3" height="1" fill="#a8a8a8" shape-rendering="crispEdges"/>
<rect x="245" y="10" width="3" height="1" fill="#a8a8a8" shape-rendering="crispEdges"/>
<rect x="245" y="12" width="3" height="1" fill="#a8a8a8" shape-rendering="crispEdges"/>
<rect x="245" y="14" width="3" height="1" fill="#a8a8a8" shape-rendering="crispEdges"/>
<rect x="245" y="16" width="3" height="1" fill="#a8a8a8" shape-rendering="crispEdges"/>
<rect x="245" y="18" width="3" height="1" fill="#a8a8a8" shape-rendering="crispEdges"/>
<g stroke="#555" stroke-width="1.1" fill="#555">
<line x1="259.6" y1="4.5" x2="259.6" y2="18"/>
<line x1="257.1" y1="15.8" x2="270.1" y2="15.8"/>
<polygon points="259.6,3.6 257.70000000000005,6.3 261.5,6.3" stroke="none"/>
<polygon points="271.20000000000005,15.8 268.5,13.9 268.5,17.7" stroke="none"/>
</g>
<path d="M265.6,5.4 v8 M265.6,6.4 h2.6 M265.6,12.4 h-2.6" stroke="#1e9a1e" stroke-width="1.2" fill="none"/>
<rect x="279" y="0" width="1" height="20" fill="#a0a0a0" shape-rendering="crispEdges"/>
<rect x="280" y="0" width="25" height="20" fill="#f9f9f9" shape-rendering="crispEdges"/>
<g stroke="#555" stroke-width="1.1" fill="#555">
<line x1="287.4" y1="4.5" x2="287.4" y2="18"/>
<line x1="284.9" y1="15.8" x2="297.9" y2="15.8"/>
<polygon points="287.4,3.6 285.5,6.3 289.29999999999995,6.3" stroke="none"/>
<polygon points="299.0,15.8 296.29999999999995,13.9 296.29999999999995,17.7" stroke="none"/>
</g>
<line x1="293.6" y1="2.2" x2="293.6" y2="13.8" stroke="#128a12" stroke-width="1.1"/>
<rect x="291.2" y="4.6" width="4.8" height="7" fill="#30e030" stroke="#128a12" stroke-width="0.9"/>
<g stroke="#555" stroke-width="1.1" fill="#555">
<line x1="315.4" y1="4.5" x2="315.4" y2="18"/>
<line x1="312.9" y1="15.8" x2="325.9" y2="15.8"/>
<polygon points="315.4,3.6 313.5,6.3 317.29999999999995,6.3" stroke="none"/>
<polygon points="327.0,15.8 324.29999999999995,13.9 324.29999999999995,17.7" stroke="none"/>
</g>
<path d="M314.2,12.8 C317,10.5 318.5,7 320.2,7 C322,7 323.5,10.5 325.8,11.2" fill="none" stroke="#2e9a2e" stroke-width="1.1"/>
<rect x="336" y="0" width="1" height="20" fill="#a0a0a0" shape-rendering="crispEdges"/>
<line x1="355.5" y1="12" x2="359.70000000000005" y2="16.2" stroke="#b08610" stroke-width="3.2" stroke-linecap="butt"/>
<line x1="355.70000000000005" y1="12" x2="359.70000000000005" y2="16" stroke="#f4dc5c" stroke-width="1.7" stroke-linecap="butt"/>
<circle cx="351.1" cy="7.8" r="5.4" fill="#d2ecfb" stroke="#2f6fc4" stroke-width="1.2"/>
<rect x="348.1" y="7" width="6" height="1.7" fill="#4a80b4"/>
<rect x="350.25" y="4.8" width="1.7" height="6" fill="#4a80b4"/>
<line x1="383.09999999999997" y1="12" x2="387.3" y2="16.2" stroke="#b08610" stroke-width="3.2" stroke-linecap="butt"/>
<line x1="383.3" y1="12" x2="387.3" y2="16" stroke="#f4dc5c" stroke-width="1.7" stroke-linecap="butt"/>
<circle cx="378.7" cy="7.8" r="5.4" fill="#d2ecfb" stroke="#2f6fc4" stroke-width="1.2"/>
<rect x="375.7" y="7" width="6" height="1.7" fill="#4a80b4"/>
<rect x="401" y="2.2" width="7.8" height="7.6" fill="#4ea422" stroke="#2f7a12" stroke-width="0.5"/>
<rect x="401.9" y="5.0" width="6" height="4" fill="#fbfdff"/>
<rect x="403.1" y="6.5" width="3.6" height="0.9" fill="#4ea422" opacity="0.55"/>
<rect x="401.9" y="3.2" width="1.2" height="0.9" fill="#fff"/>
<rect x="409.2" y="2.2" width="7.8" height="7.6" fill="#2c62d6" stroke="#1c3fa0" stroke-width="0.5"/>
<rect x="410.09999999999997" y="5.0" width="6" height="4" fill="#fbfdff"/>
<rect x="411.3" y="6.5" width="3.6" height="0.9" fill="#2c62d6" opacity="0.55"/>
<rect x="410.09999999999997" y="3.2" width="1.2" height="0.9" fill="#fff"/>
<rect x="401" y="10.2" width="7.8" height="7.6" fill="#2c62d6" stroke="#1c3fa0" stroke-width="0.5"/>
<rect x="401.9" y="13.0" width="6" height="4" fill="#fbfdff"/>
<rect x="403.1" y="14.5" width="3.6" height="0.9" fill="#2c62d6" opacity="0.55"/>
<rect x="401.9" y="11.2" width="1.2" height="0.9" fill="#fff"/>
<rect x="409.2" y="10.2" width="7.8" height="7.6" fill="#4ea422" stroke="#2f7a12" stroke-width="0.5"/>
<rect x="410.09999999999997" y="13.0" width="6" height="4" fill="#fbfdff"/>
<rect x="411.3" y="14.5" width="3.6" height="0.9" fill="#4ea422" opacity="0.55"/>
<rect x="410.09999999999997" y="11.2" width="1.2" height="0.9" fill="#fff"/>
<rect x="426" y="0" width="1" height="21" fill="#a0a0a0" shape-rendering="crispEdges"/>
<rect x="431" y="0" width="1" height="20" fill="#a0a0a0" shape-rendering="crispEdges"/>
<rect x="432" y="0" width="25" height="20" fill="#f9f9f9" shape-rendering="crispEdges"/>
<g stroke="#555" stroke-width="1.1" fill="#555">
<line x1="439.5" y1="4.5" x2="439.5" y2="18"/>
<line x1="437.0" y1="15.8" x2="450.0" y2="15.8"/>
<polygon points="439.5,3.6 437.6,6.3 441.4,6.3" stroke="none"/>
<polygon points="451.1,15.8 448.4,13.9 448.4,17.7" stroke="none"/>
</g>
<polygon points="444.2,6 444.2,13 448.2,9.5" fill="#55d455" stroke="#1e9a1e" stroke-width="0.9"/>
<rect x="459" y="0" width="1" height="20" fill="#a0a0a0" shape-rendering="crispEdges"/>
<rect x="460" y="0" width="25" height="20" fill="#f9f9f9" shape-rendering="crispEdges"/>
<g stroke="#555" stroke-width="1.1" fill="#555">
<line x1="467.4" y1="4.5" x2="467.4" y2="18"/>
<line x1="464.9" y1="15.8" x2="477.9" y2="15.8"/>
<polygon points="467.4,3.6 465.5,6.3 469.29999999999995,6.3" stroke="none"/>
<polygon points="479.0,15.8 476.29999999999995,13.9 476.29999999999995,17.7" stroke="none"/>
</g>
<line x1="473.4" y1="4" x2="473.4" y2="14" stroke="#2a5aa8" stroke-width="1.1"/>
<path d="M474.4,9.5 h5 M474.4,9.5 l2.6,-2.2 M474.4,9.5 l2.6,2.2" stroke="#d63c14" stroke-width="1.1" fill="none"/>
<rect x="488" y="0" width="1" height="20" fill="#a0a0a0" shape-rendering="crispEdges"/>
<path d="M498.6,2.7 h8.4 l3,3 v9.6 h-11.4 z" fill="#fff" stroke="#7c7c7c" stroke-width="1.2" stroke-linejoin="round"/>
<path d="M507,2.9 v2.8 h2.8" fill="#f4f4f4" stroke="#7c7c7c" stroke-width="0.8"/>
<path d="M503,6.2 q-1.6,0.2 -1.4,2 v5 M500.4,10 h2.6" fill="none" stroke="#444" stroke-width="0.9"/>
<path d="M506.4,8 h3.6 v3.9 h3.9 v3.6 h-3.9 v3.9 h-3.6 v-3.9 h-3.9 v-3.6 h3.9 z" fill="#1fd12f" stroke="#0b8f18" stroke-width="0.9"/><path d="M507.9,9 v9.4 M503.5,13.4 h9.4" stroke="#5cf068" stroke-width="1" fill="none"/>
<polygon points="519.6,9 525.6,9 522.6,12.2" fill="#000"/>
<defs><linearGradient id="ck" x1="0" y1="0" x2="0.6" y2="1"><stop offset="0" stop-color="#3f86e8"/><stop offset="1" stop-color="#0d3f98"/></linearGradient></defs>
<circle cx="544.1" cy="9.8" r="6.9" fill="#fdfdfd" stroke="url(#ck)" stroke-width="2.3"/>
<circle cx="544.1" cy="9.8" r="4.6" fill="none" stroke="#b8c4d6" stroke-width="1" stroke-dasharray="0.9,1.7"/>
<path d="M544.1,5.8 v4 h3" fill="none" stroke="#222" stroke-width="1"/>
<polygon points="558.4,9 564.4,9 561.4,12.2" fill="#000"/>
<rect x="575.6" y="3.4" width="15" height="13.2" fill="#fff" stroke="#3a70cc" stroke-width="1.1"/>
<rect x="575.6" y="3.4" width="15" height="2.2" fill="#5a92e6"/>
<line x1="576" y1="11" x2="590.4" y2="11" stroke="#3a70cc" stroke-width="0.9"/>
<path d="M577.4,9.4 l2.2,-0.4 l1.8,-1.4 l2,1 l2,-1 l2,0.6 l1.6,-1.4" fill="none" stroke="#b0281c" stroke-width="1.1"/>
<path d="M577.8,14.8 l2,-1 l1.8,0.8 l2,-1.2 l2,0.6 l1.4,-1.6 l2,2" fill="none" stroke="#1e8a2a" stroke-width="1.1"/>
<polygon points="597.4,9 603.4,9 600.4,12.2" fill="#000"/>
<rect x="609" y="0" width="1" height="21" fill="#a0a0a0" shape-rendering="crispEdges"/>
<rect x="613" y="0" width="3" height="1" fill="#a8a8a8" shape-rendering="crispEdges"/>
<rect x="613" y="2" width="3" height="1" fill="#a8a8a8" shape-rendering="crispEdges"/>
<rect x="613" y="4" width="3" height="1" fill="#a8a8a8" shape-rendering="crispEdges"/>
<rect x="613" y="6" width="3" height="1" fill="#a8a8a8" shape-rendering="crispEdges"/>
<rect x="613" y="8" width="3" height="1" fill="#a8a8a8" shape-rendering="crispEdges"/>
<rect x="613" y="10" width="3" height="1" fill="#a8a8a8" shape-rendering="crispEdges"/>
<rect x="613" y="12" width="3" height="1" fill="#a8a8a8" shape-rendering="crispEdges"/>
<rect x="613" y="14" width="3" height="1" fill="#a8a8a8" shape-rendering="crispEdges"/>
<rect x="613" y="16" width="3" height="1" fill="#a8a8a8" shape-rendering="crispEdges"/>
<rect x="613" y="18" width="3" height="1" fill="#a8a8a8" shape-rendering="crispEdges"/>
<rect x="619" y="0" width="1" height="20" fill="#a0a0a0" shape-rendering="crispEdges"/>
<rect x="620" y="0" width="25" height="20" fill="#f9f9f9" shape-rendering="crispEdges"/>
<path d="M627.2,3 V14.6 L630,12 L632.4,17.2 L634.4,16.2 L632,11.2 L635.6,11 Z" fill="#484848"/>
<g stroke="#444" stroke-width="1" shape-rendering="crispEdges"><line x1="652" y1="10.5" x2="658" y2="10.5"/><line x1="661" y1="10.5" x2="667" y2="10.5"/><line x1="659.5" y1="3" x2="659.5" y2="9"/><line x1="659.5" y1="12" x2="659.5" y2="18"/></g>
<rect x="676" y="0" width="1" height="20" fill="#a0a0a0" shape-rendering="crispEdges"/>
<rect x="693" y="4" width="1.2" height="13" fill="#444"/>
<rect x="716" y="10" width="12" height="1.2" fill="#444"/>
<line x1="744" y1="16.8" x2="756" y2="4.9" stroke="#444" stroke-width="1.1"/>
<g stroke="#444" stroke-width="1" fill="none"><path d="M769.6,11.6 L777.9,3.9 M774.8,16.8 L784.3,8.2"/></g>
<g stroke="#3a3a3a" stroke-width="1.3" fill="none"><path d="M772.4,9.6 L772.2,16.6 M775.4,7.6 L775.2,13.6 M778.4,5.6 L778.6,11.4 M781.4,2.4 L781.8,9.4"/><path d="M771,13.6 h1.4 M772.4,11.6 h1.6 M774,10.6 h1.3 M775.4,9.4 h1.6 M777,8.6 h1.4 M778.6,7 h1.6 M780,5 h1.4 M781.6,7.6 h1.6" stroke-width="0.9"/></g>
<text x="780.8" y="19" font-size="7.2" font-weight="bold" fill="#333">E</text>
<g stroke="#444" stroke-width="1" stroke-dasharray="1,1" shape-rendering="crispEdges"><line x1="799" y1="3.5" x2="812.5" y2="3.5"/><line x1="799" y1="6.5" x2="812.5" y2="6.5"/><line x1="799" y1="10.5" x2="812.5" y2="10.5"/><line x1="799" y1="14.5" x2="808" y2="14.5"/></g>
<text x="808.9" y="19" font-size="7.2" font-weight="bold" fill="#333">F</text>
<text x="829.8" y="15" font-size="12.4" fill="#444" stroke="#444" stroke-width="0.5" textLength="7.6" lengthAdjust="spacingAndGlyphs">A</text>
<g stroke="#444" stroke-width="1" stroke-dasharray="1,1" shape-rendering="crispEdges"><line x1="856" y1="4.5" x2="869" y2="4.5"/><line x1="856" y1="16.5" x2="869" y2="16.5"/><line x1="856.5" y1="4" x2="856.5" y2="17"/><line x1="868.5" y1="4" x2="868.5" y2="17"/></g>
<path d="M858.2,7.5 h7.7" stroke="#444" stroke-width="1.3" fill="none"/><path d="M862.05,7.5 v7.1" stroke="#444" stroke-width="1.9" fill="none"/>
<rect x="855" y="3" width="2.2" height="1.6" fill="#444"/>
<polygon points="886,4 889.4,7.6 882.6,7.6" fill="#444"/><polygon points="893.4,16.6 897,12.8 889.8,12.8" fill="#444"/>
<path d="M884.6,11.4 l1.8,1.8 l4.4,-4.6" fill="none" stroke="#444" stroke-width="1.2"/>
<polygon points="903.4,9 909.4,9 906.4,12.2" fill="#000"/>
<rect x="915" y="0" width="1" height="21" fill="#a0a0a0" shape-rendering="crispEdges"/>
<rect x="919" y="0" width="3" height="1" fill="#a8a8a8" shape-rendering="crispEdges"/>
<rect x="919" y="2" width="3" height="1" fill="#a8a8a8" shape-rendering="crispEdges"/>
<rect x="919" y="4" width="3" height="1" fill="#a8a8a8" shape-rendering="crispEdges"/>
<rect x="919" y="6" width="3" height="1" fill="#a8a8a8" shape-rendering="crispEdges"/>
<rect x="919" y="8" width="3" height="1" fill="#a8a8a8" shape-rendering="crispEdges"/>
<rect x="919" y="10" width="3" height="1" fill="#a8a8a8" shape-rendering="crispEdges"/>
<rect x="919" y="12" width="3" height="1" fill="#a8a8a8" shape-rendering="crispEdges"/>
<rect x="919" y="14" width="3" height="1" fill="#a8a8a8" shape-rendering="crispEdges"/>
<rect x="919" y="16" width="3" height="1" fill="#a8a8a8" shape-rendering="crispEdges"/>
<rect x="919" y="18" width="3" height="1" fill="#a8a8a8" shape-rendering="crispEdges"/>
<rect x="1066" y="0" width="25" height="20" fill="#f9f9f9" shape-rendering="crispEdges"/>
<rect x="1065" y="0" width="1" height="20" fill="#a0a0a0" shape-rendering="crispEdges"/>
<text x="930.2" y="14" font-size="9.8" fill="#333" textLength="13.2" lengthAdjust="spacingAndGlyphs">M1</text>
<text x="958.5" y="14" font-size="9.8" fill="#333" textLength="13" lengthAdjust="spacingAndGlyphs">M5</text>
<text x="984.2" y="14" font-size="9.8" fill="#333" textLength="18.3" lengthAdjust="spacingAndGlyphs">M15</text>
<text x="1012.6" y="14" font-size="9.8" fill="#333" textLength="17.8" lengthAdjust="spacingAndGlyphs">M30</text>
<text x="1043.3" y="14" font-size="9.8" fill="#333" textLength="12.4" lengthAdjust="spacingAndGlyphs">H1</text>
<text x="1070.2" y="14" font-size="9.8" fill="#333" textLength="13" lengthAdjust="spacingAndGlyphs">H4</text>
<text x="1099.5" y="14" font-size="9.8" fill="#333" textLength="12" lengthAdjust="spacingAndGlyphs">D1</text>
<text x="1127" y="14" font-size="9.8" fill="#333" textLength="14.5" lengthAdjust="spacingAndGlyphs">W1</text>
<text x="1153.5" y="14" font-size="9.8" fill="#333" textLength="14.5" lengthAdjust="spacingAndGlyphs">MN</text>
<rect x="1176" y="0" width="1" height="20" fill="#a0a0a0" shape-rendering="crispEdges"/>
<line x1="1643.4" y1="10.8" x2="1639.2" y2="14.8" stroke="#2b5fd0" stroke-width="2.4" stroke-linecap="round"/>
<circle cx="1646.4" cy="7.9" r="3.9" fill="#f4f8ff" stroke="#2b5fd0" stroke-width="1.3"/>
<path d="M1664,9 a5,4.4 0 0 1 9,0 v3.4 a5,4 0 0 1 -5.4,3.2 l-2,2.4 l0.2,-2.8 a4,4 0 0 1 -1.8,-3 z" fill="#e4e6ee" stroke="#aeb2be" stroke-width="0.8"/>
<circle cx="1677.6" cy="7.7" r="8.2" fill="#dc3a22"/>
<circle cx="1677.6" cy="5" r="6" fill="#ea5a3e" opacity="0.5"/>
<text x="1674.2" y="12" font-size="11.5" fill="#fff">1</text>
</g>
</svg>

</body></html>
